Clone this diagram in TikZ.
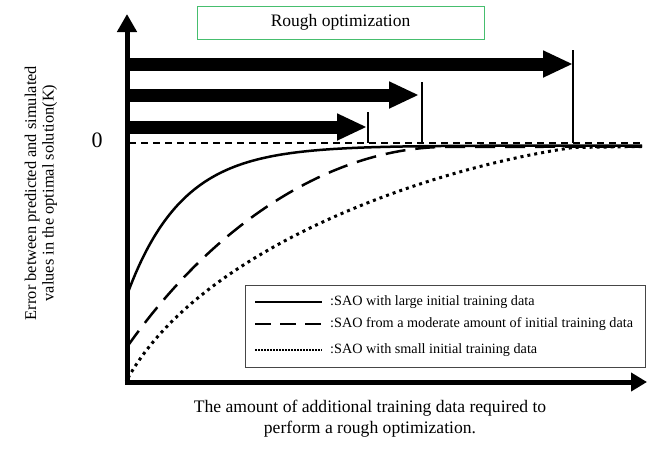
\documentclass[tikz,border=0pt]{standalone}
\usepackage{fontspec}
\setmainfont{Liberation Serif}
\usetikzlibrary{arrows.meta}
\definecolor{boxgreen}{RGB}{70,190,110}
\definecolor{legframe}{RGB}{70,70,70}
\begin{document}
\begin{tikzpicture}[x=1pt,y=-1pt,
  axisline/.style={line width=5pt},
  bigarrow/.style={line width=13pt,-{Triangle[length=30pt,width=25pt]}},
  markline/.style={line width=1.5pt},
  zeroline/.style={line width=2pt,dash pattern=on 7pt off 5pt},
  solidcurve/.style={line width=2.5pt},
  dashcurve/.style={line width=2.5pt,dash pattern=on 20pt off 10pt},
  dotcurve/.style={line width=3pt,dash pattern=on 3pt off 4pt},
  legtext/.style={font=\fontsize{14.2}{16}\selectfont,anchor=west,inner sep=0pt},
  bigtext/.style={font=\fontsize{17.6}{21}\selectfont,align=center},
]
\useasboundingbox (0,0) rectangle (655,448);
% axes
\coordinate (O) at (127,382);
\coordinate (ytop) at (127,14);
\coordinate (xend) at (647,382);
\draw[axisline,-{Triangle[length=18pt,width=19pt]}] (127,384.5) -- (ytop);
\draw[axisline,-{Triangle[length=16pt,width=18pt]}] (124.5,382) -- (xend);
% zero line
\coordinate (z0) at (129,143);
\coordinate (z1) at (642,143);
\draw[zeroline] (z0) -- (z1);
\node[font=\fontsize{22}{24}\selectfont,inner sep=0pt] (zero) at (97,140) {0};
% title
\node[draw=boxgreen,line width=1pt,minimum width=287pt,minimum height=33pt,
      font=\fontsize{17.5}{20}\selectfont] (title) at (340.5,22.5) {Rough optimization};
% rough optimization arrows
\coordinate (a1s) at (128,64);  \coordinate (a1e) at (573,64);
\coordinate (a2s) at (128,95);  \coordinate (a2e) at (419,95);
\coordinate (a3s) at (128,127); \coordinate (a3e) at (367,127);
\draw[bigarrow] (a1s) -- (a1e);
\draw[bigarrow] (a2s) -- (a2e);
\draw[bigarrow] (a3s) -- (a3e);
\coordinate (m1t) at (573,50);  \coordinate (m1b) at (573,143);
\coordinate (m2t) at (422,82);  \coordinate (m2b) at (422,143);
\coordinate (m3t) at (368,112); \coordinate (m3b) at (368,143);
\draw[markline] (m1t) -- (m1b);
\draw[markline] (m2t) -- (m2b);
\draw[markline] (m3t) -- (m3b);
% curves
\draw[solidcurve] plot[domain=127:642,samples=120,smooth] (\x,{145.5+149.5*exp(-(\x-127)/55)});
\coordinate (d0) at (127,347);
\coordinate (d1) at (440,147);
\coordinate (dend) at (642,146.5);
\draw[dashcurve] (d0) .. controls (215,222) and (330,150) .. (d1) -- (dend);
\coordinate (s0) at (128,378);
\coordinate (s1) at (573,147.5);
\coordinate (send) at (642,146.5);
\draw[dotcurve] (s0) .. controls (200,250) and (420,170) .. (s1) -- (send);
% legend
\node[draw=legframe,line width=0.8pt,minimum width=400pt,minimum height=82pt,inner sep=0pt] (legend) at (445,326) {};
\coordinate (l1a) at (255,302); \coordinate (l1b) at (322,302);
\coordinate (l2a) at (255,324); \coordinate (l2b) at (322,324);
\coordinate (l3a) at (255,350); \coordinate (l3b) at (322,350);
\draw[line width=1.8pt] (l1a) -- (l1b);
\draw[line width=2pt,dash pattern=on 16pt off 9pt] (l2a) -- (l2b);
\draw[line width=1.8pt,dash pattern=on 1.6pt off 1.4pt] (l3a) -- (l3b);
\node[legtext] (t1) at (330,302) {:SAO with large initial training data};
\node[legtext] (t2) at (330,324) {:SAO from a moderate amount of initial training data};
\node[legtext] (t3) at (330,350) {:SAO with small initial training data};
% axis labels
\node[bigtext] (xlabel) at (370,419) {The amount of additional training data required to\\perform a rough optimization.};
\node[bigtext,rotate=90,font=\fontsize{16.4}{17.5}\selectfont] (ylabel) at (41,193) {Error between predicted and simulated\\values in the optimal solution(K)};
\end{tikzpicture}
\end{document}
